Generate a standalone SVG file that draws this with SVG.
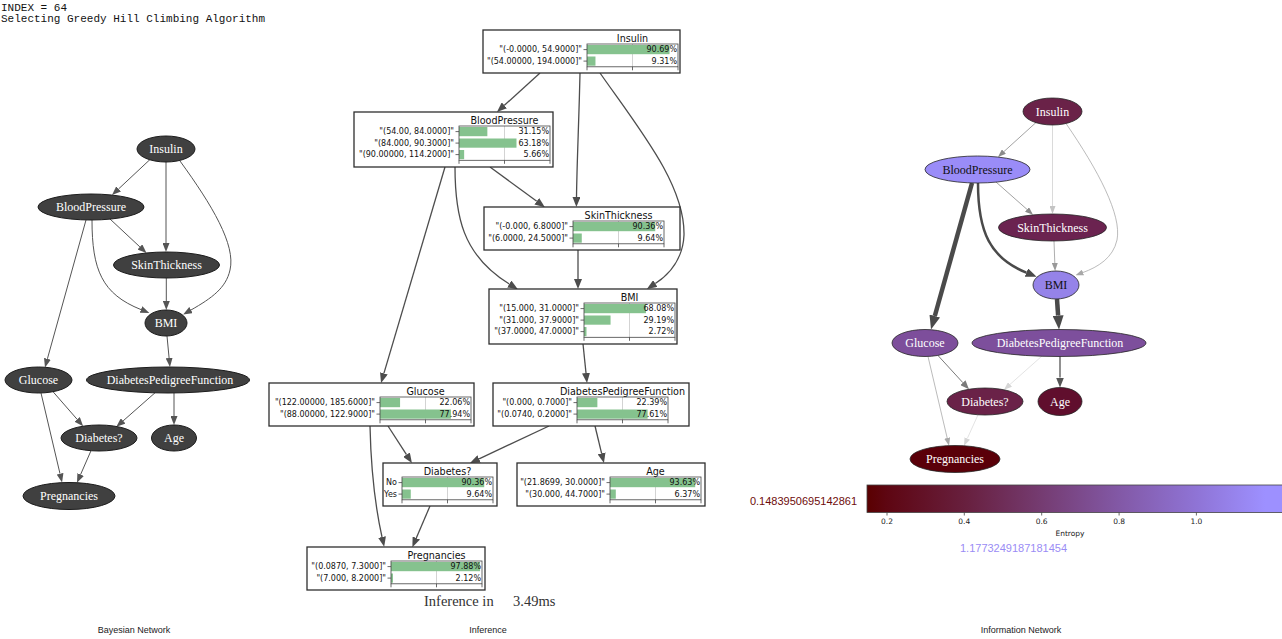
<svg xmlns="http://www.w3.org/2000/svg" width="1282" height="639" viewBox="0 0 1282 639">
  <style>
    .mono { font-family: "Liberation Mono", "DejaVu Sans Mono", monospace; font-size: 11px; fill: #111; }
    .gv { font-family: "Liberation Serif", "DejaVu Serif", serif; font-size: 12px; text-anchor: middle; fill: #fff; }
    .gv.dk { fill: #111; }
    .bn ellipse { fill: #404040; stroke: #1c1c1c; stroke-width: 1; }
    .inode ellipse { stroke: #262626; stroke-width: 0.8; }
    .edge { fill: none; }
    .frame { fill: #fff; stroke: #2e2e2e; stroke-width: 1.3; }
    .ttl { font-family: "DejaVu Sans", sans-serif; font-size: 9.6px; text-anchor: middle; fill: #111; }
    .lab, .pct { font-family: "DejaVu Sans", sans-serif; font-size: 8px; text-anchor: end; fill: #111; }
    .bar { fill: #85c28e; }
    .ax { fill: none; stroke: #444; stroke-width: 0.8; }
    .grid { stroke: #c8c8c8; stroke-width: 0.8; }
    .tk { stroke: #444; stroke-width: 0.8; fill: none; }
    .cap { font-family: "Liberation Sans", Arial, sans-serif; font-size: 9px; text-anchor: middle; fill: #222; }
    .cb { font-family: "DejaVu Sans", sans-serif; font-size: 7.5px; text-anchor: middle; fill: #222; }
    .num { font-family: "Liberation Sans", Arial, sans-serif; font-size: 11px; }
  </style>
  <defs>
    <marker id="ah-bn" viewBox="0 0 9 7" refX="0" refY="3.5" markerWidth="9" markerHeight="7" markerUnits="userSpaceOnUse" orient="auto"><path d="M0,0L9,3.5L0,7z" fill="#555"/></marker>
    <marker id="ah-inf" viewBox="0 0 10 8" refX="0" refY="4" markerWidth="10" markerHeight="8" markerUnits="userSpaceOnUse" orient="auto"><path d="M0,0L10,4L0,8z" fill="#4d4d4d"/></marker>
    <marker id="ah-8a" viewBox="0 0 8 6" refX="0" refY="3" markerWidth="8" markerHeight="6" markerUnits="userSpaceOnUse" orient="auto"><path d="M0,0L8,3L0,6z" fill="#8a8a8a"/></marker>
    <marker id="ah-d0" viewBox="0 0 8 6" refX="0" refY="3" markerWidth="8" markerHeight="6" markerUnits="userSpaceOnUse" orient="auto"><path d="M0,0L8,3L0,6z" fill="#c4c4c4"/></marker>
    <marker id="ah-aa" viewBox="0 0 8 6" refX="0" refY="3" markerWidth="8" markerHeight="6" markerUnits="userSpaceOnUse" orient="auto"><path d="M0,0L8,3L0,6z" fill="#a8a8a8"/></marker>
    <marker id="ah-99" viewBox="0 0 8 6" refX="0" refY="3" markerWidth="8" markerHeight="6" markerUnits="userSpaceOnUse" orient="auto"><path d="M0,0L8,3L0,6z" fill="#999"/></marker>
    <marker id="ah-7a" viewBox="0 0 9 7" refX="0" refY="3.5" markerWidth="9" markerHeight="7" markerUnits="userSpaceOnUse" orient="auto"><path d="M0,0L9,3.5L0,7z" fill="#7a7a7a"/></marker>
    <marker id="ah-dc" viewBox="0 0 8 6" refX="0" refY="3" markerWidth="8" markerHeight="6" markerUnits="userSpaceOnUse" orient="auto"><path d="M0,0L8,3L0,6z" fill="#d6d6d6"/></marker>
    <marker id="ah-55" viewBox="0 0 10 8" refX="0" refY="4" markerWidth="10" markerHeight="8" markerUnits="userSpaceOnUse" orient="auto"><path d="M0,0L10,4L0,8z" fill="#555"/></marker>
    <marker id="ah-mid" viewBox="0 0 11 9" refX="0" refY="4.5" markerWidth="11" markerHeight="9" markerUnits="userSpaceOnUse" orient="auto"><path d="M0,0L11,4.5L0,9z" fill="#4a4a4a"/></marker>
    <marker id="ah-big" viewBox="0 0 14 11" refX="0" refY="5.5" markerWidth="14" markerHeight="11" markerUnits="userSpaceOnUse" orient="auto"><path d="M0,0L14,5.5L0,11z" fill="#4a4a4a"/></marker>
    <linearGradient id="entropy" gradientUnits="userSpaceOnUse" x1="867" y1="0" x2="1265" y2="0">
      <stop offset="0" stop-color="#5a0000"/>
      <stop offset="0.05" stop-color="#5e0612"/>
      <stop offset="0.25" stop-color="#68203f"/>
      <stop offset="0.44" stop-color="#753c72"/>
      <stop offset="0.63" stop-color="#8258a5"/>
      <stop offset="0.83" stop-color="#8f74d6"/>
      <stop offset="1" stop-color="#9d90ff"/>
    </linearGradient>
  </defs>

  <rect x="0" y="0" width="1282" height="639" fill="#fff"/>

  <!-- header lines -->
  <text class="mono" x="1" y="10.5">INDEX = 64</text>
  <text class="mono" x="1" y="22">Selecting Greedy Hill Climbing Algorithm</text>

  <!-- ===== Bayesian network (left) ===== -->
  <g id="bn-connectors" class="edge" stroke="#555" stroke-width="1" marker-end="url(#ah-bn)">
    <path d="M150,159.5L118.6,188.9"/>
    <path d="M166,162L166,243"/>
    <path d="M180,161C212,205 236,245 230,270C226,288 212,298 191,310"/>
    <path d="M110,219L139.9,246.9"/>
    <path d="M92,220C92,270 102,294 141,309.6"/>
    <path d="M86,220L47.4,358.8"/>
    <path d="M166.3,278L166.3,301"/>
    <path d="M167,336L169.1,358"/>
    <path d="M53,391.7L77.2,419.4"/>
    <path d="M41,393L60,473.7"/>
    <path d="M155,392.8L123.1,420.9"/>
    <path d="M174,392.9L174,416"/>
    <path d="M91,450.7L80.6,474.5"/>
  </g>
  <g id="bn-insulin" class="bn"><ellipse cx="166" cy="149" rx="29" ry="13"/><text class="gv" x="166" y="153">Insulin</text></g>
  <g id="bn-bloodpressure" class="bn"><ellipse cx="91" cy="207" rx="53" ry="13"/><text class="gv" x="91" y="211">BloodPressure</text></g>
  <g id="bn-skinthickness" class="bn"><ellipse cx="166.5" cy="265" rx="53" ry="13"/><text class="gv" x="166.5" y="269">SkinThickness</text></g>
  <g id="bn-bmi" class="bn"><ellipse cx="166" cy="323" rx="21" ry="13"/><text class="gv" x="166" y="327">BMI</text></g>
  <g id="bn-glucose" class="bn"><ellipse cx="38.5" cy="380" rx="33.5" ry="13"/><text class="gv" x="38.5" y="384">Glucose</text></g>
  <g id="bn-dpf" class="bn"><ellipse cx="168" cy="380" rx="81.5" ry="13"/><text class="gv" x="170" y="384">DiabetesPedigreeFunction</text></g>
  <g id="bn-diabetes" class="bn"><ellipse cx="99" cy="438" rx="38" ry="13"/><text class="gv" x="99" y="442">Diabetes?</text></g>
  <g id="bn-age" class="bn"><ellipse cx="174" cy="438" rx="22.5" ry="13"/><text class="gv" x="174" y="442">Age</text></g>
  <g id="bn-pregnancies" class="bn"><ellipse cx="69" cy="496" rx="46" ry="13.5"/><text class="gv" x="69" y="500">Pregnancies</text></g>

  <!-- ===== Inference panel (middle) ===== -->
  <g id="inf-connectors" class="edge" stroke="#4d4d4d" stroke-width="1.3" marker-end="url(#ah-inf)">
    <path d="M540,73L504.4,105.3"/>
    <path d="M580,73C579,120 577,160 576.5,197"/>
    <path d="M600,73C640,130 685,185 684,235C683,258 670,274 655.3,283.5"/>
    <path d="M490,167L536.8,201.3"/>
    <path d="M455,167C455,215 462,255 509.3,284"/>
    <path d="M445,167L383.9,373.4"/>
    <path d="M578,250L578,279"/>
    <path d="M583,344L586,373"/>
    <path d="M388,426L406.5,454.7"/>
    <path d="M370,426C371,470 376,510 382,537"/>
    <path d="M549,426L479.1,458.8"/>
    <path d="M595,426L601.6,453.3"/>
    <path d="M430,506L416.3,538"/>
  </g>

  <g id="inf-insulin" transform="translate(587,44)">
    <rect class="frame" x="-104" y="-14" width="197" height="43"/>
    <text class="ttl" x="45.5" y="-2.5">Insulin</text>
    <line class="grid" x1="45.5" y1="0" x2="45.5" y2="22.8"/>
    <rect class="bar" x="0" y="1" width="82.53" height="9.2"/>
    <rect class="bar" x="0" y="12.5" width="8.47" height="9.2"/>
    <rect class="ax" x="0" y="0" width="91" height="22.8"/>
    <path class="tk" d="M-3.5,5.6H0M-3.5,17.1H0M0,22.8v3.5M45.5,22.8v3.5M91,22.8v3.5"/>
    <text class="lab" x="-5" y="8.4">"(-0.0000, 54.9000]"</text>
    <text class="lab" x="-5" y="19.9">"(54.00000, 194.0000]"</text>
    <text class="pct" x="90" y="8.4">90.69%</text>
    <text class="pct" x="90" y="19.9">9.31%</text>
  </g>

  <g id="inf-bloodpressure" transform="translate(459,126)">
    <rect class="frame" x="-105" y="-14" width="199" height="55"/>
    <text class="ttl" x="45.5" y="-2.5">BloodPressure</text>
    <line class="grid" x1="45.5" y1="0" x2="45.5" y2="34.3"/>
    <rect class="bar" x="0" y="1" width="28.35" height="9.2"/>
    <rect class="bar" x="0" y="12.5" width="57.49" height="9.2"/>
    <rect class="bar" x="0" y="24" width="5.15" height="9.2"/>
    <rect class="ax" x="0" y="0" width="91" height="34.3"/>
    <path class="tk" d="M-3.5,5.6H0M-3.5,17.1H0M-3.5,28.6H0M0,34.3v3.5M45.5,34.3v3.5M91,34.3v3.5"/>
    <text class="lab" x="-5" y="8.4">"(54.00, 84.0000]"</text>
    <text class="lab" x="-5" y="19.9">"(84.000, 90.3000]"</text>
    <text class="lab" x="-5" y="31.4">"(90.00000, 114.2000]"</text>
    <text class="pct" x="90" y="8.4">31.15%</text>
    <text class="pct" x="90" y="19.9">63.18%</text>
    <text class="pct" x="90" y="31.4">5.66%</text>
  </g>

  <g id="inf-skinthickness" transform="translate(573,221)">
    <rect class="frame" x="-89" y="-14" width="196" height="43"/>
    <text class="ttl" x="45.5" y="-2.5">SkinThickness</text>
    <line class="grid" x1="45.5" y1="0" x2="45.5" y2="22.8"/>
    <rect class="bar" x="0" y="1" width="82.23" height="9.2"/>
    <rect class="bar" x="0" y="12.5" width="8.77" height="9.2"/>
    <rect class="ax" x="0" y="0" width="91" height="22.8"/>
    <path class="tk" d="M-3.5,5.6H0M-3.5,17.1H0M0,22.8v3.5M45.5,22.8v3.5M91,22.8v3.5"/>
    <text class="lab" x="-5" y="8.4">"(-0.000, 6.8000]"</text>
    <text class="lab" x="-5" y="19.9">"(6.0000, 24.5000]"</text>
    <text class="pct" x="90" y="8.4">90.36%</text>
    <text class="pct" x="90" y="19.9">9.64%</text>
  </g>

  <g id="inf-bmi" transform="translate(584,303)">
    <rect class="frame" x="-95" y="-14" width="188" height="55"/>
    <text class="ttl" x="45.5" y="-2.5">BMI</text>
    <line class="grid" x1="45.5" y1="0" x2="45.5" y2="34.3"/>
    <rect class="bar" x="0" y="1" width="61.95" height="9.2"/>
    <rect class="bar" x="0" y="12.5" width="26.56" height="9.2"/>
    <rect class="bar" x="0" y="24" width="2.48" height="9.2"/>
    <rect class="ax" x="0" y="0" width="91" height="34.3"/>
    <path class="tk" d="M-3.5,5.6H0M-3.5,17.1H0M-3.5,28.6H0M0,34.3v3.5M45.5,34.3v3.5M91,34.3v3.5"/>
    <text class="lab" x="-5" y="8.4">"(15.000, 31.0000]"</text>
    <text class="lab" x="-5" y="19.9">"(31.000, 37.9000]"</text>
    <text class="lab" x="-5" y="31.4">"(37.0000, 47.0000]"</text>
    <text class="pct" x="90" y="8.4">68.08%</text>
    <text class="pct" x="90" y="19.9">29.19%</text>
    <text class="pct" x="90" y="31.4">2.72%</text>
  </g>

  <g id="inf-glucose" transform="translate(380,397)">
    <rect class="frame" x="-111" y="-14" width="205" height="43"/>
    <text class="ttl" x="45.5" y="-2.5">Glucose</text>
    <line class="grid" x1="45.5" y1="0" x2="45.5" y2="22.8"/>
    <rect class="bar" x="0" y="1" width="20.07" height="9.2"/>
    <rect class="bar" x="0" y="12.5" width="70.93" height="9.2"/>
    <rect class="ax" x="0" y="0" width="91" height="22.8"/>
    <path class="tk" d="M-3.5,5.6H0M-3.5,17.1H0M0,22.8v3.5M45.5,22.8v3.5M91,22.8v3.5"/>
    <text class="lab" x="-5" y="8.4">"(122.00000, 185.6000]"</text>
    <text class="lab" x="-5" y="19.9">"(88.00000, 122.9000]"</text>
    <text class="pct" x="90" y="8.4">22.06%</text>
    <text class="pct" x="90" y="19.9">77.94%</text>
  </g>

  <g id="inf-dpf" transform="translate(577,397)">
    <rect class="frame" x="-84" y="-14" width="196" height="43"/>
    <text class="ttl" x="45.5" y="-2.5">DiabetesPedigreeFunction</text>
    <line class="grid" x1="45.5" y1="0" x2="45.5" y2="22.8"/>
    <rect class="bar" x="0" y="1" width="20.37" height="9.2"/>
    <rect class="bar" x="0" y="12.5" width="70.63" height="9.2"/>
    <rect class="ax" x="0" y="0" width="91" height="22.8"/>
    <path class="tk" d="M-3.5,5.6H0M-3.5,17.1H0M0,22.8v3.5M45.5,22.8v3.5M91,22.8v3.5"/>
    <text class="lab" x="-5" y="8.4">"(0.000, 0.7000]"</text>
    <text class="lab" x="-5" y="19.9">"(0.0740, 0.2000]"</text>
    <text class="pct" x="90" y="8.4">22.39%</text>
    <text class="pct" x="90" y="19.9">77.61%</text>
  </g>

  <g id="inf-diabetes" transform="translate(402,477)">
    <rect class="frame" x="-19" y="-14" width="114" height="43"/>
    <text class="ttl" x="45.5" y="-2.5">Diabetes?</text>
    <line class="grid" x1="45.5" y1="0" x2="45.5" y2="22.8"/>
    <rect class="bar" x="0" y="1" width="82.23" height="9.2"/>
    <rect class="bar" x="0" y="12.5" width="8.77" height="9.2"/>
    <rect class="ax" x="0" y="0" width="91" height="22.8"/>
    <path class="tk" d="M-3.5,5.6H0M-3.5,17.1H0M0,22.8v3.5M45.5,22.8v3.5M91,22.8v3.5"/>
    <text class="lab" x="-5" y="8.4">No</text>
    <text class="lab" x="-5" y="19.9">Yes</text>
    <text class="pct" x="90" y="8.4">90.36%</text>
    <text class="pct" x="90" y="19.9">9.64%</text>
  </g>

  <g id="inf-age" transform="translate(610,477)">
    <rect class="frame" x="-93" y="-14" width="188" height="43"/>
    <text class="ttl" x="45.5" y="-2.5">Age</text>
    <line class="grid" x1="45.5" y1="0" x2="45.5" y2="22.8"/>
    <rect class="bar" x="0" y="1" width="85.2" height="9.2"/>
    <rect class="bar" x="0" y="12.5" width="5.8" height="9.2"/>
    <rect class="ax" x="0" y="0" width="91" height="22.8"/>
    <path class="tk" d="M-3.5,5.6H0M-3.5,17.1H0M0,22.8v3.5M45.5,22.8v3.5M91,22.8v3.5"/>
    <text class="lab" x="-5" y="8.4">"(21.8699, 30.0000]"</text>
    <text class="lab" x="-5" y="19.9">"(30.000, 44.7000]"</text>
    <text class="pct" x="90" y="8.4">93.63%</text>
    <text class="pct" x="90" y="19.9">6.37%</text>
  </g>

  <g id="inf-pregnancies" transform="translate(391,561)">
    <rect class="frame" x="-84" y="-14" width="178" height="43"/>
    <text class="ttl" x="45.5" y="-2.5">Pregnancies</text>
    <line class="grid" x1="45.5" y1="0" x2="45.5" y2="22.8"/>
    <rect class="bar" x="0" y="1" width="89.07" height="9.2"/>
    <rect class="bar" x="0" y="12.5" width="1.93" height="9.2"/>
    <rect class="ax" x="0" y="0" width="91" height="22.8"/>
    <path class="tk" d="M-3.5,5.6H0M-3.5,17.1H0M0,22.8v3.5M45.5,22.8v3.5M91,22.8v3.5"/>
    <text class="lab" x="-5" y="8.4">"(0.0870, 7.3000]"</text>
    <text class="lab" x="-5" y="19.9">"(7.000, 8.2000]"</text>
    <text class="pct" x="90" y="8.4">97.88%</text>
    <text class="pct" x="90" y="19.9">2.12%</text>
  </g>

  <text x="424" y="606" font-family="Liberation Serif, serif" font-size="14.5" fill="#333">Inference in</text>
  <text x="513" y="606" font-family="Liberation Serif, serif" font-size="14.5" fill="#333">3.49ms</text>

  <!-- ===== Information network (right) ===== -->
  <g id="info-connectors" class="edge">
    <path d="M1036,122.5L1003.9,151.6" stroke="#8a8a8a" stroke-width="0.8" marker-end="url(#ah-8a)"/>
    <path d="M1052.5,125L1052.5,206" stroke="#d0d0d0" stroke-width="0.8" marker-end="url(#ah-d0)"/>
    <path d="M1066,123.5C1098,170 1122,215 1117,240C1113,258 1098,267 1083,272.5" stroke="#aaa" stroke-width="0.8" marker-end="url(#ah-aa)"/>
    <path d="M996,182L1027,209.4" stroke="#8a8a8a" stroke-width="0.8" marker-end="url(#ah-8a)"/>
    <path d="M978,183C978,232 990,258 1026.4,272.6" stroke="#4a4a4a" stroke-width="2.5" marker-end="url(#ah-mid)"/>
    <path d="M972,183L934.8,316" stroke="#4a4a4a" stroke-width="4.5" marker-end="url(#ah-big)"/>
    <path d="M1054,241L1054.8,263" stroke="#999" stroke-width="0.8" marker-end="url(#ah-99)"/>
    <path d="M1057,299L1058.1,315.5" stroke="#4a4a4a" stroke-width="4.5" marker-end="url(#ah-big)"/>
    <path d="M938,355.5L962.9,382.7" stroke="#7a7a7a" stroke-width="1" marker-end="url(#ah-7a)"/>
    <path d="M928,356.5L947.2,438" stroke="#aaa" stroke-width="0.8" marker-end="url(#ah-aa)"/>
    <path d="M1042,356L1010,384.4" stroke="#dcdcdc" stroke-width="0.8" marker-end="url(#ah-dc)"/>
    <path d="M1060,356.5L1060,377.5" stroke="#555" stroke-width="1.3" marker-end="url(#ah-55)"/>
    <path d="M978,414.8L967.3,438.5" stroke="#dcdcdc" stroke-width="0.8" marker-end="url(#ah-dc)"/>
  </g>
  <g id="info-insulin" class="inode"><ellipse cx="1052.5" cy="111.5" rx="29.5" ry="13.5" fill="#6a2248"/><text class="gv" x="1052.5" y="115.5">Insulin</text></g>
  <g id="info-bloodpressure" class="inode"><ellipse cx="977.5" cy="169.5" rx="52.5" ry="13.5" fill="#9a8cf8"/><text class="gv dk" x="977.5" y="173.5">BloodPressure</text></g>
  <g id="info-skinthickness" class="inode"><ellipse cx="1052.5" cy="227.5" rx="54" ry="13.5" fill="#6b2350"/><text class="gv" x="1052.5" y="231.5">SkinThickness</text></g>
  <g id="info-bmi" class="inode"><ellipse cx="1056" cy="285" rx="23" ry="14" fill="#9583e9"/><text class="gv dk" x="1056" y="289">BMI</text></g>
  <g id="info-glucose" class="inode"><ellipse cx="925" cy="343" rx="33" ry="13.5" fill="#7d4e9b"/><text class="gv" x="925" y="347">Glucose</text></g>
  <g id="info-dpf" class="inode"><ellipse cx="1059" cy="343" rx="87" ry="13.5" fill="#7d4f9c"/><text class="gv" x="1060" y="347">DiabetesPedigreeFunction</text></g>
  <g id="info-diabetes" class="inode"><ellipse cx="985" cy="401.5" rx="38" ry="13.5" fill="#6a2248"/><text class="gv" x="985" y="405.5">Diabetes?</text></g>
  <g id="info-age" class="inode"><ellipse cx="1060" cy="401.5" rx="22" ry="14" fill="#600e2d"/><text class="gv" x="1060" y="405.5">Age</text></g>
  <g id="info-pregnancies" class="inode"><ellipse cx="955" cy="459" rx="45" ry="13.5" fill="#5a0009"/><text class="gv" x="955" y="463">Pregnancies</text></g>

  <!-- entropy colour scale -->
  <g id="entropy-scale">
    <rect x="867" y="485" width="420" height="27.5" fill="url(#entropy)" stroke="#444" stroke-width="0.8"/>
    <path class="tk" d="M887,512.5v3M964.3,512.5v3M1041.7,512.5v3M1119.1,512.5v3M1196.4,512.5v3"/>
    <text class="cb" x="887" y="524">0.2</text>
    <text class="cb" x="964.3" y="524">0.4</text>
    <text class="cb" x="1041.7" y="524">0.6</text>
    <text class="cb" x="1119.1" y="524">0.8</text>
    <text class="cb" x="1196.4" y="524">1.0</text>
    <text class="cb" x="1070" y="535.5">Entropy</text>
    <text class="num" x="857" y="504.5" text-anchor="end" fill="#6e0b0b">0.1483950695142861</text>
    <text class="num" x="1013.5" y="552" text-anchor="middle" fill="#9a8cf5">1.1773249187181454</text>
  </g>

  <!-- panel captions -->
  <text class="cap" x="134" y="633">Bayesian Network</text>
  <text class="cap" x="488" y="633">Inference</text>
  <text class="cap" x="1021" y="633">Information Network</text>
</svg>
